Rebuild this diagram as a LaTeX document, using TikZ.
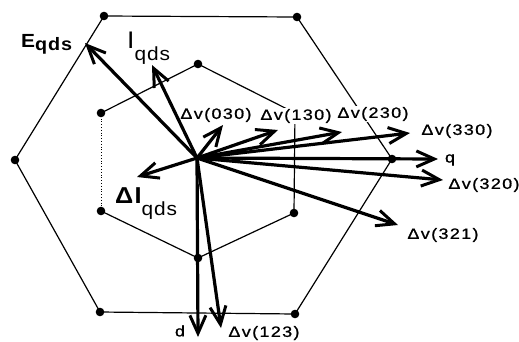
\documentclass[tikz,border=0pt]{standalone}
\usepackage{fontspec}
\setmainfont{Liberation Sans}
\newfontfamily\lblfont[FakeStretch=1.2,LetterSpace=9,FakeBold=1]{Liberation Sans}
\newfontfamily\bigfont[FakeStretch=1.1,LetterSpace=5]{Liberation Sans}
\usetikzlibrary{arrows.meta}

\begin{document}
\begin{tikzpicture}[
    x=1pt, y=-1pt,
    hexline/.style={line width=1.2pt},
    vec/.style={line width=3.2pt, -{Straight Barb[length=18pt,width=16pt,line width=3pt]}},
    lbl/.style={font=\lblfont\fontsize{15}{17}\selectfont, inner sep=1pt},
    big/.style={font=\bigfont\fontsize{16}{18}\selectfont, inner sep=0pt, anchor=base west}
]
\useasboundingbox (0,0) rectangle (519,341);

% vertices of the two hexagons
\coordinate (a1) at (104,16);
\coordinate (a2) at (297,17);
\coordinate (a3) at (392,159);
\coordinate (a4) at (295,314);
\coordinate (a5) at (100,312);
\coordinate (a6) at (15,160);
\coordinate (b1) at (198,64);
\coordinate (b2) at (295,113);
\coordinate (b3) at (294,213);
\coordinate (b4) at (198,258);
\coordinate (b5) at (101,211);
\coordinate (b6) at (101,113);

\draw[hexline] (a1) -- (a2) -- (a3) -- (a4) -- (a5) -- (a6) -- cycle;
\draw[hexline] (b5) -- (b4) -- (b3) -- (b2) -- (b1) -- (b6);
\draw[line width=0.8pt, dotted] (b6) -- (b5);
\foreach \v in {a1,a2,a3,a4,a5,a6,b1,b2,b3,b4,b5,b6}
    \fill (\v) circle[radius=4.3pt];

% labels on the hexagon lines
\node[lbl, fill=white] (l030) at (216,115) {Δv(030)};
\node[lbl, fill=white] (l130) at (296,116) {Δv(130)};
\node[lbl, fill=white] (l230) at (373,114) {Δv(230)};
\node[lbl] (l330) at (457,131) {Δv(330)};
\node[lbl] (lq)   at (450,160) {q};
\node[lbl] (l320) at (484,185) {Δv(320)};
\node[lbl] (l321) at (443,235) {Δv(321)};
\node[lbl] (l123) at (264,333) {Δv(123)};
\node[lbl] (ld)   at (180,331) {d};

% space vectors
\coordinate (O) at (197,158);
\coordinate (tE)   at (85,43);
\coordinate (tI)   at (152,65);
\coordinate (tdI)  at (137,177);
\coordinate (t030) at (223,125);
\coordinate (t130) at (278,130);
\coordinate (t230) at (342,132);
\coordinate (t330) at (410,133);
\coordinate (tq)   at (438,159);
\coordinate (t320) at (443,180);
\coordinate (t321) at (398,225);
\coordinate (t123) at (221,328);
\coordinate (td)   at (198,337);

\foreach \t in {tE,tI,tdI,t030,t130,t230,t330,tq,t320,t321,t123,td}
    \draw[vec] (O) -- (\t);

\node[big, font=\bigfont\bfseries\fontsize{19}{20}\selectfont] (eqds) at (21,47)
    {E\raisebox{-3pt}{\fontsize{18}{18}\selectfont qds}};
\node[big, font=\bigfont\fontsize{24}{24}\selectfont] (iqds) at (127,48)
    {I\raisebox{-12pt}{\fontsize{19}{19}\selectfont qds}};
\node[big, font=\bigfont\bfseries\fontsize{23}{23}\selectfont] (diqds) at (115,203)
    {ΔI\raisebox{-12pt}{\fontsize{19}{19}\selectfont\mdseries qds}};
\end{tikzpicture}
\end{document}
